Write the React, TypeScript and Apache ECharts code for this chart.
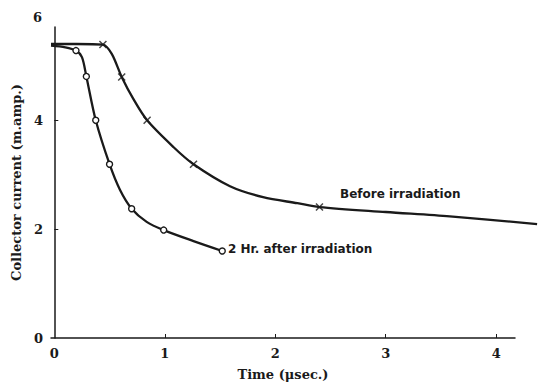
import React, { useEffect, useRef } from "react";
import * as echarts from "echarts";

// x (µsec), y (m.amp.)
const beforeCurveX = [-0.03, 0.2, 0.44, 0.52, 0.61, 0.715, 0.84, 1.08, 1.26, 1.59, 1.89, 2.2, 2.4, 3.0, 3.58, 4.37];
const beforeCurveY = [5.41, 5.41, 5.4, 5.23, 4.81, 4.41, 4.02, 3.53, 3.22, 2.82, 2.62, 2.51, 2.44, 2.35, 2.27, 2.13];
const beforeMarkX = [0.44, 0.61, 0.84, 1.26, 2.4];
const beforeMarkY = [5.4, 4.81, 4.02, 3.22, 2.44];

const afterCurveX = [-0.03, 0.1, 0.196, 0.25, 0.29, 0.375, 0.5, 0.595, 0.7, 0.836, 0.99, 1.26, 1.52];
const afterCurveY = [5.38, 5.35, 5.29, 5.17, 4.82, 4.02, 3.22, 2.75, 2.41, 2.17, 2.02, 1.82, 1.64];
const afterMarkX = [0.196, 0.29, 0.375, 0.5, 0.7, 0.99, 1.52];
const afterMarkY = [5.29, 4.82, 4.02, 3.22, 2.41, 2.02, 1.64];

const xTicks = [0, 1, 2, 3, 4];
const yTicks = [0, 2, 4];
const yTopLabel = "6";

const zip = (xs: number[], ys: number[]) => xs.map((x, i) => [x, ys[i]]);

const INK = "#1a1a1a";
const SERIF = "'DejaVu Serif', serif";
const HAND = "'DejaVu Sans', sans-serif";

const X_MIN = -0.03;
const X_MAX = 4.17; // visible axis end
const X_MAX_EXT = 4.4; // curve drawing area (same scale)
const PX_PER_UNIT = 464 / (X_MAX - X_MIN);
const LEFT = 51;
const extRight = 541 - LEFT - (X_MAX_EXT - X_MIN) * PX_PER_UNIT;

export default function App() {
  const ref = useRef<HTMLDivElement>(null);
  useEffect(() => {
    if (!ref.current) return;
    const chart = echarts.init(ref.current, undefined, { renderer: "svg" });
    const axisFont = { fontFamily: SERIF, fontSize: 13, fontWeight: "bold", color: INK };
    chart.setOption({
      animation: false,
      backgroundColor: "#ffffff",
      grid: [
        { left: LEFT, top: 27, right: 26, bottom: 45 },
        { left: LEFT, top: 27, right: extRight, bottom: 45 },
      ],
      xAxis: [
        {
          type: "value",
          gridIndex: 0,
          min: X_MIN,
          max: X_MAX,
          name: "Time (\u03bcsec.)",
          nameLocation: "middle",
          nameGap: 30,
          nameTextStyle: axisFont,
          axisLine: { lineStyle: { color: INK, width: 1.5 } },
          axisTick: { inside: true, length: 4, customValues: xTicks.slice(1), lineStyle: { color: INK } },
          axisLabel: { customValues: xTicks, margin: 9, ...axisFont },
          splitLine: { show: false },
        },
        {
          type: "value",
          gridIndex: 1,
          min: X_MIN,
          max: X_MAX_EXT,
          show: false,
        },
      ],
      yAxis: [
        {
          type: "value",
          gridIndex: 0,
          min: 0,
          max: 5.72,
          name: "Collector current (m.amp.)",
          nameLocation: "middle",
          nameGap: 25,
          nameTextStyle: axisFont,
          axisLine: { show: true, lineStyle: { color: INK, width: 1.5 } },
          axisTick: { show: true, inside: true, length: 4, customValues: yTicks.slice(1), lineStyle: { color: INK } },
          axisLabel: { customValues: yTicks, margin: 8, ...axisFont },
          splitLine: { show: false },
        },
        {
          type: "value",
          gridIndex: 1,
          min: 0,
          max: 5.72,
          show: false,
        },
      ],
      graphic: [
        {
          type: "text",
          left: 33,
          top: 11,
          style: { text: yTopLabel, font: `bold 13px ${SERIF}`, fill: INK },
        },
        {
          type: "text",
          left: 340,
          top: 188,
          style: { text: "Before irradiation", font: `bold 12px ${HAND}`, fill: INK },
        },
        {
          type: "text",
          left: 228,
          top: 243,
          style: { text: "2 Hr. after irradiation", font: `bold 12px ${HAND}`, fill: INK },
        },
      ],
      series: [
        {
          type: "line",
          xAxisIndex: 1,
          yAxisIndex: 1,
          data: zip(beforeCurveX, beforeCurveY),
          smooth: 0.3,
          showSymbol: false,
          lineStyle: { color: INK, width: 2.3 },
          z: 2,
        },
        {
          type: "line",
          xAxisIndex: 1,
          yAxisIndex: 1,
          data: zip(afterCurveX, afterCurveY),
          smooth: 0.3,
          showSymbol: false,
          lineStyle: { color: INK, width: 2.3 },
          z: 2,
        },
        {
          type: "scatter",
          xAxisIndex: 1,
          yAxisIndex: 1,
          data: zip(beforeMarkX, beforeMarkY),
          symbol: "path://M0,0L10,10M0,10L10,0",
          symbolSize: 7,
          itemStyle: { color: "transparent", borderColor: INK, borderWidth: 1.5 },
          z: 3,
        },
        {
          type: "scatter",
          xAxisIndex: 1,
          yAxisIndex: 1,
          data: zip(afterMarkX, afterMarkY),
          symbol: "circle",
          symbolSize: 6,
          itemStyle: { color: "#ffffff", borderColor: INK, borderWidth: 1.4, opacity: 1 },
          z: 4,
        },
      ],
    });
    return () => chart.dispose();
  }, []);
  return <div ref={ref} style={{ position: "fixed", left: 0, top: 0, width: 541, height: 386 }} />;
}
